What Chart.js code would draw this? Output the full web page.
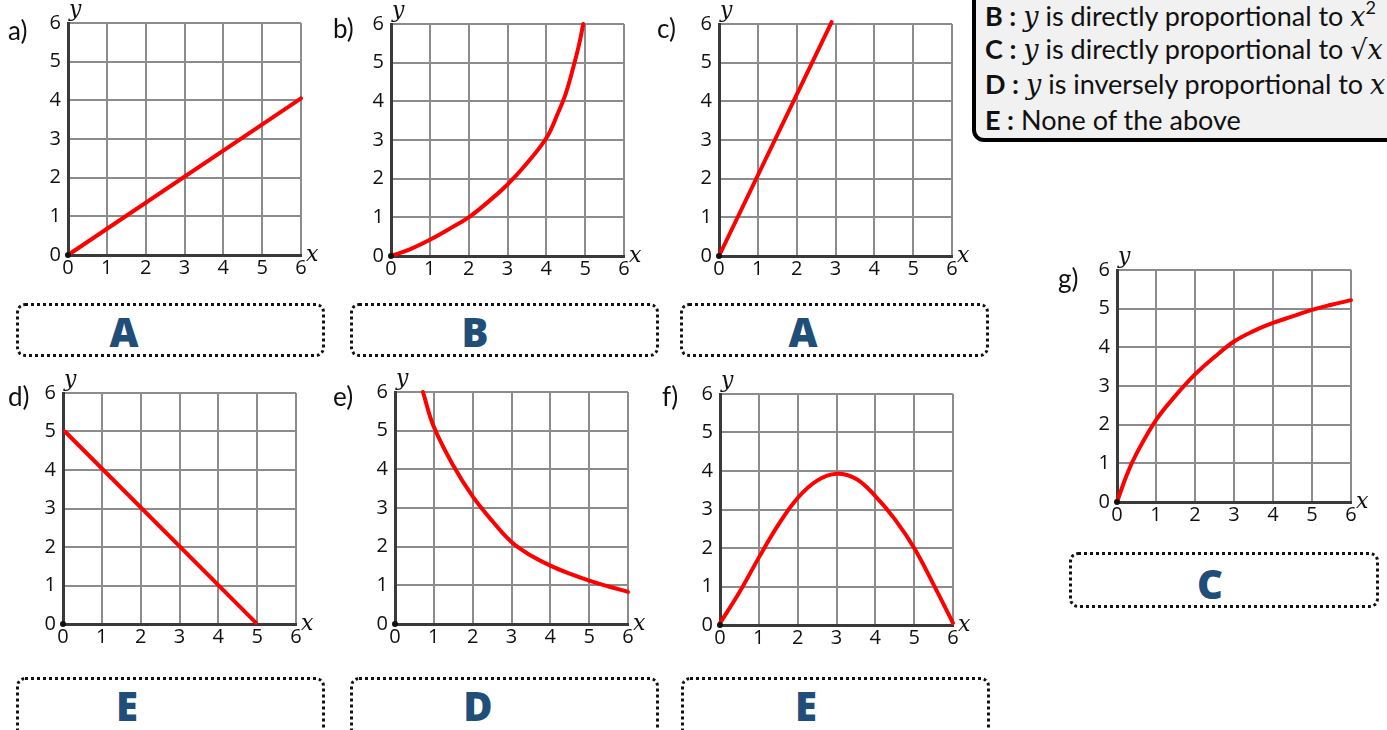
<!DOCTYPE html>
<html>
<head>
<meta charset="utf-8">
<script src="https://cdn.jsdelivr.net/npm/chart.js@4"></script>
<style>
  html, body { margin:0; padding:0; background:#fff; width:1387px; height:730px; overflow:hidden; position:relative; font-family: Lato, "Open Sans", sans-serif; }
  canvas { position:absolute; }
  .plabel { position:absolute; font-family: Lato, sans-serif; font-size:26px; color:#111; line-height:1; }
  .ans { position:absolute; border:3px dotted #111; border-radius:9px; box-sizing:border-box; }
  .letter { position:absolute; font-family: "Open Sans", sans-serif; font-weight:800; font-size:40px; color:#1f4e79; transform:translate(-50%,-50%); line-height:1; }
  .legend { position:absolute; left:972px; top:-40px; width:460px; height:182px; box-sizing:border-box; border:4px solid #000; border-radius:12px; background:#f1f1f1; }
  .lline { position:absolute; left:985px; font-family: Lato, sans-serif; font-size:27px; color:#111; white-space:nowrap; line-height:1; transform:translateY(-50%); }
  .lline b { font-weight:700; }
  .m { font-family: "DejaVu Serif", "Liberation Serif", serif; font-style:italic; }
</style>
</head>
<body>
<div class="legend"></div>
<div class="lline" style="top:15px"><b>B :</b> <span class="m">y</span> is directly proportional to <span class="m">x</span><sup style="font-size:18px;position:relative;top:-2px">2</sup></div>
<div class="lline" style="top:49px"><b>C :</b> <span class="m">y</span> is directly proportional to <span class="m">√x</span></div>
<div class="lline" style="top:84px"><b>D :</b> <span class="m">y</span> is inversely proportional to <span class="m">x</span></div>
<div class="lline" style="top:119px"><b>E :</b> None of the above</div>

<script>
// ---- data ----
const tickValues = [0, 1, 2, 3, 4, 5, 6];

const aX = [0, 6];
const aY = [0, 4.05];

const bX = [0, 0.5, 1, 1.5, 2, 2.5, 3, 3.5, 4, 4.3, 4.5, 4.7, 4.85, 4.95];
const bY = [0, 0.18, 0.42, 0.7, 1.0, 1.4, 1.85, 2.4, 3.05, 3.7, 4.2, 4.9, 5.5, 6.0];

const cX = [0, 2.9];
const cY = [0, 6.05];

const dX = [0.05, 4.97];
const dY = [5.0, 0.03];

const eX = [0.72, 1, 1.5, 2, 2.5, 3, 3.5, 4, 4.5, 5, 5.5, 6];
const eY = [6.0, 5.1, 4.1, 3.3, 2.67, 2.12, 1.77, 1.51, 1.3, 1.12, 0.97, 0.83];

const fX = [0, 0.5, 1, 1.5, 2, 2.5, 3, 3.5, 4, 4.5, 5, 5.5, 6];
const fY = [0.05, 0.85, 1.75, 2.6, 3.3, 3.75, 3.93, 3.8, 3.35, 2.75, 2.0, 1.05, 0.05];

const gX = [0, 0.25, 0.5, 1, 1.5, 2, 2.5, 3, 3.5, 4, 4.5, 5, 5.5, 6];
const gY = [0, 0.7, 1.25, 2.12, 2.75, 3.3, 3.75, 4.15, 4.42, 4.63, 4.8, 4.97, 5.1, 5.22];

const panelNames = ['a)', 'b)', 'c)', 'd)', 'e)', 'f)', 'g)'];
const answers = ['A', 'B', 'A', 'E', 'D', 'E', 'C'];

// ---- layout (positions only) ----
const layout = [
  { xs: aX, ys: aY, x0: 68.3, x6: 301.7, y6: 23.3, y0: 255, smooth: false, lab: [8, 30], box: [16, 303, 309, 54], let: [124, 332] },
  { xs: bX, ys: bY, x0: 391, x6: 624, y6: 24, y0: 255.7, smooth: true, lab: [333, 28], box: [350, 303, 309, 54], let: [475, 332] },
  { xs: cX, ys: cY, x0: 719.3, x6: 952.3, y6: 24.3, y0: 256.7, smooth: false, lab: [657, 28], box: [680, 303, 309, 54], let: [803, 332] },
  { xs: dX, ys: dY, x0: 63.3, x6: 296.7, y6: 393.3, y0: 624.3, smooth: false, lab: [8, 396], box: [16, 677, 309, 70], let: [127, 706] },
  { xs: eX, ys: eY, x0: 395, x6: 628.3, y6: 391.7, y0: 624, smooth: true, lab: [333, 396], box: [350, 677, 309, 70], let: [478, 706] },
  { xs: fX, ys: fY, x0: 720, x6: 953.3, y6: 394, y0: 625, smooth: true, lab: [662, 396], box: [681, 677, 309, 70], let: [806, 706] },
  { xs: gX, ys: gY, x0: 1116.7, x6: 1351, y6: 270, y0: 501.7, smooth: true, lab: [1058, 278], box: [1069, 552, 310, 56], let: [1210, 584] }
];

const PADL = 45, PADT = 25, PADR = 35, PADB = 35;
const tickFont = { family: '"Open Sans", "Noto Sans", sans-serif', size: 20, weight: 'normal' };

const axisDeco = {
  id: 'axisDeco',
  afterDraw(chart) {
    const ctx = chart.ctx, xs = chart.scales.x, ys = chart.scales.y;
    const ox = xs.getPixelForValue(0), oy = ys.getPixelForValue(0);
    ctx.save();
    ctx.fillStyle = '#111';
    ctx.beginPath(); ctx.arc(ox, oy, 3, 0, Math.PI * 2); ctx.fill();
    ctx.font = 'italic 22px "DejaVu Serif", "Liberation Serif", serif';
    ctx.textBaseline = 'middle';
    ctx.textAlign = 'left';
    ctx.fillText('y', ox + 1, ys.getPixelForValue(6) - 13);
    ctx.fillText('x', xs.getPixelForValue(6) + 5, oy);
    ctx.restore();
  }
};

layout.forEach((p, i) => {
  const w = p.x6 - p.x0, h = p.y0 - p.y6;
  const cv = document.createElement('canvas');
  const cw = Math.round(PADL + w + PADR), ch = Math.round(PADT + h + PADB);
  cv.width = cw; cv.height = ch;
  cv.style.width = cw + 'px'; cv.style.height = ch + 'px';
  cv.style.left = (p.x0 - PADL) + 'px';
  cv.style.top = (p.y6 - PADT) + 'px';
  document.body.appendChild(cv);

  const pts = p.xs.map((x, k) => ({ x: x, y: p.ys[k] }));
  new Chart(cv, {
    type: 'scatter',
    data: { datasets: [{
      data: pts, showLine: true, borderColor: '#ff0000', borderWidth: 4,
      pointRadius: 0, fill: false, clip: false,
      tension: p.smooth ? 0.4 : 0,
      borderCapStyle: 'round', borderJoinStyle: 'round'
    }]},
    options: {
      responsive: false, animation: false, devicePixelRatio: 1,
      layout: { padding: { left: 0, top: PADT, right: PADR, bottom: 0 } },
      plugins: { legend: { display: false }, tooltip: { enabled: false } },
      scales: {
        x: {
          type: 'linear', min: 0, max: 6,
          afterFit: s => { s.height = PADB; },
          afterBuildTicks: s => { s.ticks = tickValues.map(v => ({ value: v })); },
          grid: { color: '#8c8c8c', lineWidth: 2, drawTicks: false },
          border: { color: '#3a3a3a', width: 3 },
          ticks: { color: '#111', font: tickFont, padding: 1, maxRotation: 0 }
        },
        y: {
          type: 'linear', min: 0, max: 6,
          afterFit: s => { s.width = PADL; },
          afterBuildTicks: s => { s.ticks = tickValues.map(v => ({ value: v })); },
          grid: { color: '#8c8c8c', lineWidth: 2, drawTicks: false },
          border: { color: '#3a3a3a', width: 3 },
          ticks: { color: '#111', font: tickFont, padding: 7 }
        }
      }
    },
    plugins: [axisDeco]
  });

  const lab = document.createElement('div');
  lab.className = 'plabel';
  lab.textContent = panelNames[i];
  lab.style.left = p.lab[0] + 'px';
  lab.style.top = (p.lab[1] - 13) + 'px';
  document.body.appendChild(lab);

  const box = document.createElement('div');
  box.className = 'ans';
  box.style.left = p.box[0] + 'px'; box.style.top = p.box[1] + 'px';
  box.style.width = p.box[2] + 'px'; box.style.height = p.box[3] + 'px';
  document.body.appendChild(box);

  const le = document.createElement('div');
  le.className = 'letter';
  le.textContent = answers[i];
  le.style.left = p.let[0] + 'px'; le.style.top = p.let[1] + 'px';
  document.body.appendChild(le);
});
</script>
</body>
</html>
